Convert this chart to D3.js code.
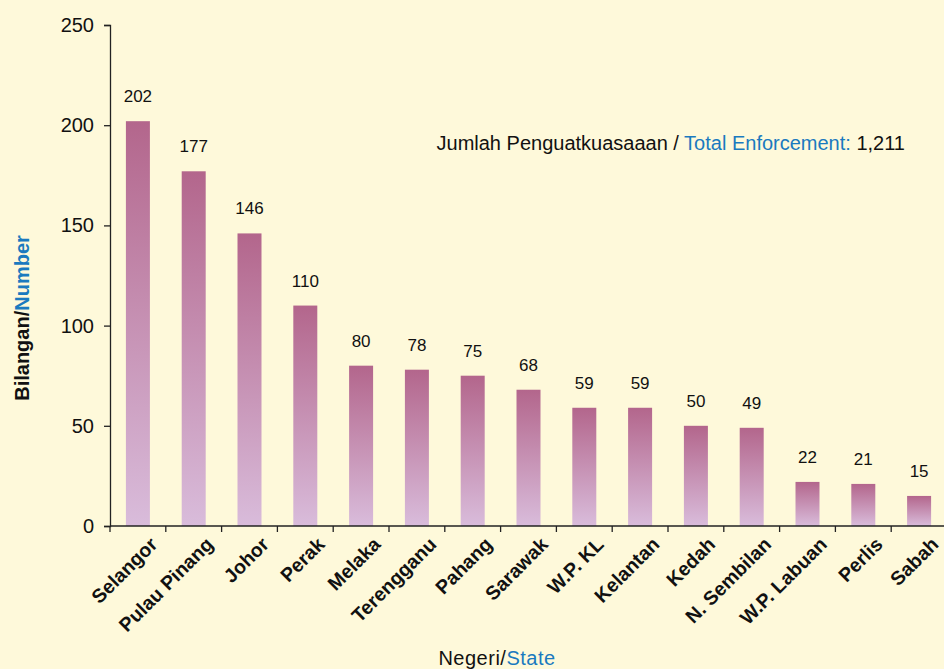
<!DOCTYPE html>
<html><head><meta charset="utf-8">
<script src="https://cdn.jsdelivr.net/npm/d3@7"></script>
<style>
html,body{margin:0;padding:0;background:#fef9da;}
svg{display:block;font-family:"Liberation Sans",Arial,sans-serif;}
</style></head>
<body>
<svg id="c" width="944" height="669"></svg>
<script>
const states = ["Selangor","Pulau Pinang","Johor","Perak","Melaka","Terengganu","Pahang","Sarawak","W.P. KL","Kelantan","Kedah","N. Sembilan","W.P. Labuan","Perlis","Sabah"];
const counts = [202,177,146,110,80,78,75,68,59,59,50,49,22,21,15];
const yTicks = [0,50,100,150,200,250];
const totalLabel = "1,211";

const svg = d3.select("#c");
svg.append("rect").attr("width",944).attr("height",669).attr("fill","#fef9da");

const x = d3.scaleBand().domain(states).range([110,947]).paddingInner(0.57).paddingOuter(0.285);
const y = d3.scaleLinear().domain([0,250]).range([526,25]);

const defs = svg.append("defs");
const g = defs.append("linearGradient").attr("id","bg").attr("x1",0).attr("y1",0).attr("x2",0).attr("y2",1);
g.append("stop").attr("offset","0%").attr("stop-color","#b3668c");
g.append("stop").attr("offset","100%").attr("stop-color","#d9bcdb");

// bars
svg.append("g").selectAll("rect").data(states).join("rect")
  .attr("x",d=>x(d)).attr("width",x.bandwidth())
  .attr("y",(d,i)=>y(counts[i])).attr("height",(d,i)=>y(0)-y(counts[i]))
  .attr("fill","url(#bg)");

// value labels
svg.append("g").selectAll("text").data(states).join("text")
  .attr("x",d=>x(d)+x.bandwidth()/2).attr("y",(d,i)=>y(counts[i])-19)
  .attr("text-anchor","middle").attr("font-size",17).attr("fill","#111")
  .text((d,i)=>counts[i]);

// y axis
const ya = svg.append("g").attr("transform","translate(110,0)")
  .call(d3.axisLeft(y).tickValues(yTicks).tickSize(6).tickPadding(10));
ya.select(".domain").attr("stroke","#222").attr("stroke-width",1.3);
ya.selectAll(".tick line").attr("stroke","#222").attr("stroke-width",1.3);
ya.selectAll(".tick text").attr("font-size",20).attr("fill","#111").attr("font-family","Liberation Sans, Arial, sans-serif");

// x axis line + ticks at band boundaries
svg.append("line").attr("x1",110).attr("x2",944).attr("y1",y(0)).attr("y2",y(0)).attr("stroke","#222").attr("stroke-width",1.3);
const step = x.step();
svg.append("g").selectAll("line").data(states).join("line")
  .attr("x1",d=>x(d)-x.paddingOuter()*step).attr("x2",d=>x(d)-x.paddingOuter()*step)
  .attr("y1",y(0)).attr("y2",y(0)+6).attr("stroke","#222").attr("stroke-width",1.3);

// x labels
svg.append("g").selectAll("text").data(states).join("text")
  .attr("transform",d=>`translate(${x(d)+x.bandwidth()/2+11},${y(0)+10}) rotate(-45)`)
  .attr("text-anchor","end").attr("dy","0.7em")
  .attr("font-size",19.5).attr("font-weight","bold").attr("fill","#111")
  .text(d=>d);

// axis titles
const xt = svg.append("text").attr("x",497).attr("y",665).attr("text-anchor","middle").attr("font-size",20).attr("letter-spacing",0.5);
xt.append("tspan").attr("fill","#111").text("Negeri/");
xt.append("tspan").attr("fill","#1a7abf").text("State");

const yt = svg.append("text").attr("transform","translate(29,318) rotate(-90)").attr("text-anchor","middle").attr("font-size",20).attr("font-weight","bold");
yt.append("tspan").attr("fill","#111").text("Bilangan/");
yt.append("tspan").attr("fill","#1a7abf").text("Number");

// annotation
const an = svg.append("text").attr("x",905).attr("y",150).attr("text-anchor","end").attr("font-size",20);
an.append("tspan").attr("fill","#111").text("Jumlah Penguatkuasaaan / ");
an.append("tspan").attr("fill","#1a7abf").text("Total Enforcement: ");
an.append("tspan").attr("fill","#111").text(totalLabel);
</script>
</body></html>
